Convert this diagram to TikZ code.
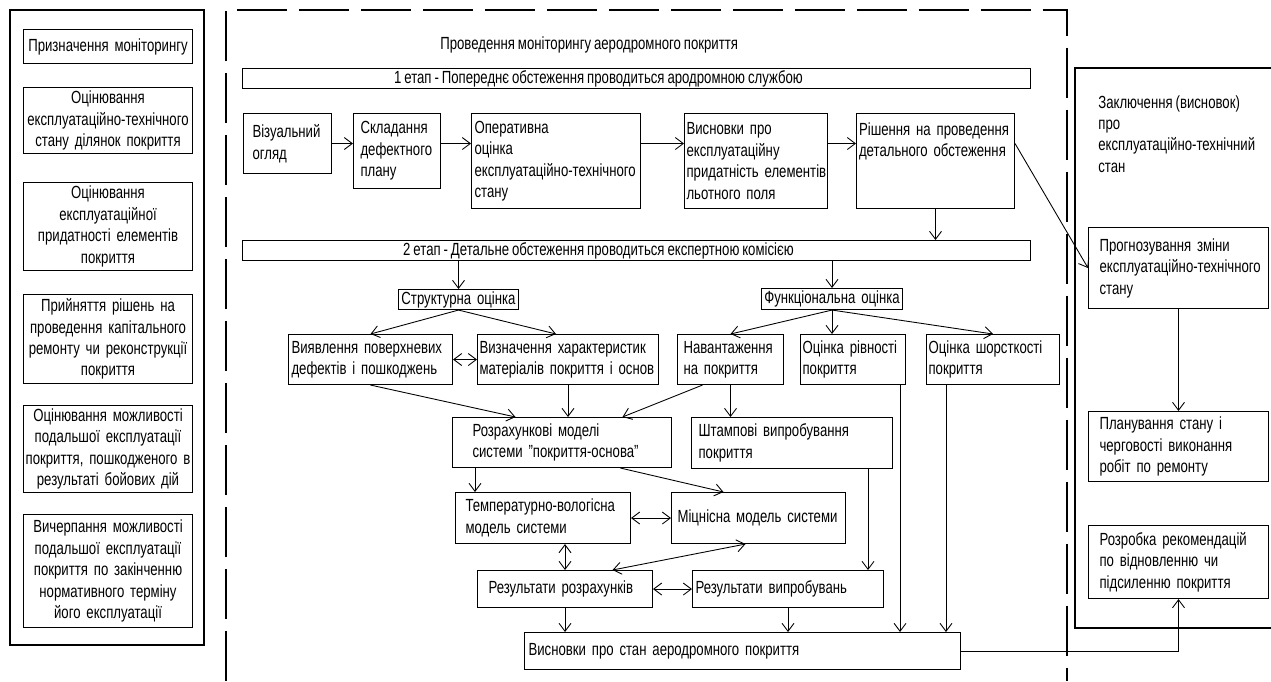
\documentclass[tikz,border=0pt]{standalone}
\usepackage{fontspec}
\setmainfont{Liberation Sans}[FakeStretch=0.75, WordSpace=0.8]
\usetikzlibrary{arrows.meta}

\tikzset{
  box/.style={draw, line width=0.6pt, align=left, anchor=north west, inner ysep=0pt, inner xsep=0.08cm},
  cbox/.style={box, align=center},
  purpose/.style={cbox, inner xsep=0.02cm, text width=3.34cm},
  stagebar/.style={draw, line width=0.6pt, anchor=north west, minimum width=15.76cm, minimum height=0.4cm, inner sep=0pt},
  arr/.style={-{Straight Barb[length=1.6mm,width=2.4mm]}, line width=0.5pt},
  darr/.style={{Straight Barb[length=1.6mm,width=2.4mm]}-{Straight Barb[length=1.6mm,width=2.4mm]}, line width=0.5pt},
}

\begin{document}
\begin{tikzpicture}[x=0.02cm, y=-0.02cm, font=\fontsize{10}{12.2}\selectfont]
\useasboundingbox (0,0) rectangle (1271,681);

% left column: purposes
\draw[line width=0.6pt] (10,10) rectangle (204,645);
\node[purpose, minimum height=0.68cm] (goal) at (23,29) {Призначення моніторингу};
\node[purpose, minimum height=1.32cm] (tech) at (23,87) {Оцінювання\\\mbox{експлуатаційно-технічного}\\стану ділянок покриття};
\node[purpose, minimum height=1.76cm] (usability) at (23,182) {Оцінювання\\експлуатаційної\\придатності елементів\\покриття};
\node[purpose, minimum height=1.78cm] (repair) at (23,294) {Прийняття рішень на\\проведення капітального\\ремонту чи реконструкції\\покриття};
\node[purpose, minimum height=1.74cm] (damage) at (23,405) {Оцінювання можливості\\подальшої експлуатації\\покриття, пошкодженого в\\результаті бойових дій};
\node[purpose, minimum height=2.26cm] (lifetime) at (23,514) {Вичерпання можливості\\подальшої експлуатації\\покриття по закінченню\\нормативного терміну\\його експлуатації};

% main dashed frame
\draw[line width=0.6pt, dash pattern=on 1cm off 0.24cm] (226,681) -- (226,10) -- (1067,10) -- (1067,681);
\node[anchor=west, inner sep=0pt] (title) at (440,45) {Проведення моніторингу аеродромного покриття};

% stage 1
\node[stagebar] (stage1) at (242,68) {\hspace*{-1.52cm}1 етап - Попереднє обстеження проводиться ародромною службою};
\node[box, inner xsep=0.18cm, text width=1.40cm, minimum height=1.2cm] (survey) at (243,113) {Візуальний\\огляд};
\node[box, inner xsep=0.14cm, text width=1.46cm, minimum height=1.5cm] (defplan) at (353,113) {Складання\\дефектного\\плану};
\node[box, inner xsep=0.06cm, text width=3.26cm, minimum height=1.9cm] (quick) at (471,113) {Оперативна\\оцінка\\\mbox{експлуатаційно-технічного}\\стану};
\node[box, inner xsep=0.04cm, text width=2.78cm, minimum height=1.9cm] (usable) at (684,113) {Висновки про\\експлуатаційну\\\mbox{придатність елементів}\\льотного поля};
\node[box, inner xsep=0.05cm, text width=3.06cm, minimum height=1.9cm] (decision) at (856,113) {Рішення на проведення\\детального обстеження\\\mbox{}\\\mbox{}};

\draw[arr] (survey.east) -- (survey.east -| defplan.west);
\draw[arr] (defplan.east |- survey.east) -- (quick.west |- survey.east);
\draw[arr] (quick.east |- survey.east) -- (usable.west |- survey.east);
\draw[arr] (usable.east |- survey.east) -- (decision.west |- survey.east);

% stage 2
\node[stagebar] (stage2) at (242,240) {\hspace*{-1.52cm}2 етап - Детальне обстеження проводиться експертною комісією};
\draw[arr] (decision.south) -- (decision.south |- stage2.north);

\node[cbox, inner xsep=0pt, text width=2.4cm, minimum height=0.4cm] (structural) at (398,289) {Структурна оцінка};
\node[cbox, inner xsep=0pt, text width=2.82cm, minimum height=0.42cm] (functional) at (761,288) {Функціональна оцінка};
\draw[arr] (structural.north |- stage2.south) -- (structural.north);
\draw[arr] (functional.north |- stage2.south) -- (functional.north);

\node[box, inner xsep=0.06cm, text width=3.16cm, minimum height=1.0cm] (surface) at (288,334) {Виявлення поверхневих\\дефектів і пошкоджень};
\node[box, inner xsep=0.04cm, text width=3.54cm, minimum height=1.0cm] (material) at (477,334) {Визначення характеристик\\\mbox{матеріалів покриття і основ}};
\node[box, inner xsep=0.12cm, text width=1.88cm, minimum height=1.0cm] (load) at (677,334) {Навантаження\\на покриття};
\node[box, inner xsep=0.04cm, text width=2.02cm, minimum height=1.0cm] (evenness) at (800,334) {Оцінка рівності\\покриття};
\node[box, inner xsep=0.04cm, text width=2.58cm, minimum height=1.0cm] (roughness) at (926,334) {Оцінка шорсткості\\покриття};

\draw[arr] (structural.south) -- (surface.north);
\draw[arr] (structural.south) -- ([xshift=-0.24cm]material.north);
\draw[darr] (surface.east) -- (material.west);
\draw[arr] (functional.south) -- (load.north);
\draw[arr] (functional.south) -- (functional.south |- evenness.north);
\draw[arr] (functional.south) -- (roughness.north);

\node[box, inner xsep=0.4cm, text width=3.58cm, minimum height=1.0cm] (models) at (452,417) {Розрахункові моделі\\системи "покриття-основа"};
\node[box, inner xsep=0.14cm, text width=3.74cm, minimum height=1.02cm] (stamptest) at (691,417) {Штампові випробування\\покриття};

\draw[arr] (surface.south) -- ([xshift=-0.93cm]models.north);
\draw[arr] (material.south) -- (material.south |- models.north);
\draw[arr] ([xshift=-0.56cm]load.south) -- ([xshift=1.21cm]models.north);
\draw[arr] (load.south) -- (load.south |- stamptest.north);

\node[box, inner xsep=0.2cm, text width=3.1cm, minimum height=1.02cm] (thermal) at (455,492) {Температурно-вологісна\\модель системи};
\node[box, inner xsep=0.12cm, text width=3.24cm, minimum height=1.02cm] (strength) at (671,492) {Міцнісна модель системи};

\coordinate (modelsout) at ([xshift=0.46cm]models.south west);
\draw[arr] (modelsout) -- (modelsout |- thermal.north);
\draw[arr] ([xshift=1.17cm]models.south) -- ([xshift=-0.7cm]strength.north);
\draw[darr] (thermal.east) -- (strength.west);

\node[box, inner xsep=0.22cm, text width=3.06cm, minimum height=0.74cm] (calcres) at (477,570) {Результати розрахунків};
\node[box, inner xsep=0.06cm, text width=3.70cm, minimum height=0.74cm] (testres) at (692,570) {Результати випробувань};

\draw[darr] (calcres.north |- thermal.south) -- (calcres.north);
\draw[darr] ([xshift=-0.26cm]strength.south) -- ([xshift=0.95cm]calcres.north);
\draw[darr] (calcres.east) -- (testres.west);
\coordinate (stampout) at ([xshift=-0.5cm]stamptest.south east);
\draw[arr] (stampout) -- (stampout |- testres.north);

\node[box, text width=8.56cm, minimum height=0.74cm] (state) at (524,632) {Висновки про стан аеродромного покриття};

\draw[arr] (calcres.south) -- (calcres.south |- state.north);
\draw[arr] (testres.south) -- (testres.south |- state.north);
\coordinate (evenout) at ([xshift=-0.12cm]evenness.south east);
\draw[arr] (evenout) -- (evenout |- state.north);
\coordinate (roughout) at ([xshift=0.4cm]roughness.south west);
\draw[arr] (roughout) -- (roughout |- state.north);

% right column: conclusion
\draw[line width=0.6pt] (1271,68) -- (1075,68) -- (1075,628) -- (1271,628);
\node[anchor=north west, inner sep=0pt, align=left] (verdict) at (1098,95) {Заключення (висновок)\\про\\експлуатаційно-технічний\\стан};
\node[box, inner xsep=0.22cm, text width=3.16cm, minimum height=1.62cm] (forecast) at (1088,227) {Прогнозування зміни\\\mbox{експлуатаційно-технічного}\\стану};
\node[box, inner xsep=0.22cm, text width=3.16cm, minimum height=1.4cm] (planning) at (1088,411) {Планування стану і\\черговості виконання\\робіт по ремонту};
\node[box, inner xsep=0.22cm, text width=3.16cm, minimum height=1.46cm] (advice) at (1088,525) {Розробка рекомендацій\\по відновленню чи\\підсиленню покриття};

\draw[arr] (decision.east |- survey.east) -- (forecast.west);
\draw[arr] (forecast.south) -- (planning.north);
\draw[arr] (state.east) -| (advice.south);
\end{tikzpicture}
\end{document}
